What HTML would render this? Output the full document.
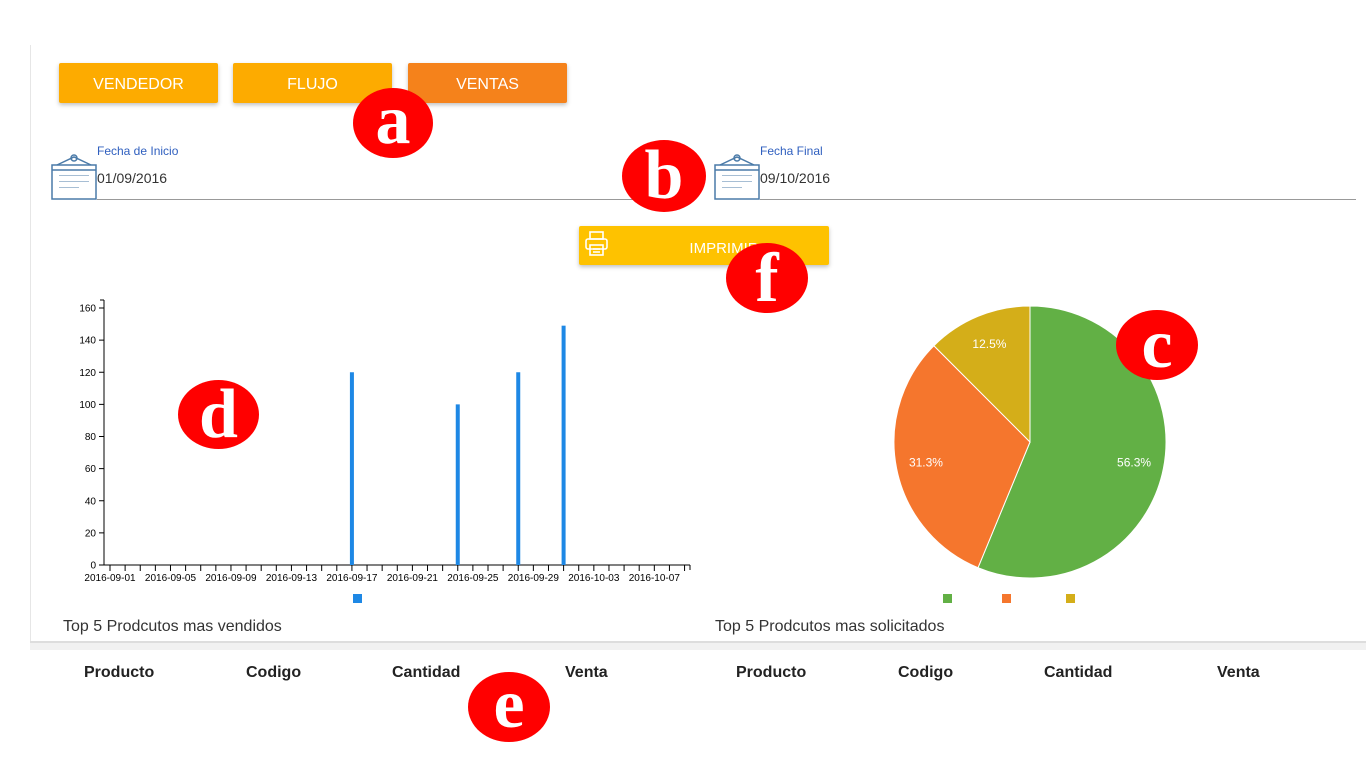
<!DOCTYPE html>
<html><head><meta charset="utf-8"><style>
body{margin:0;width:1366px;height:768px;background:#fff;font-family:"Liberation Sans",sans-serif;position:relative;overflow:hidden}
.abs{position:absolute}
.btn{position:absolute;top:63px;width:159px;height:40px;background:#fdab00;color:#fff;font-size:16px;text-align:center;line-height:44px;border-radius:2px;box-shadow:0 2px 4px rgba(0,0,0,.25)}
.mark{position:absolute;background:#ff0000;border-radius:50%;color:#fff;font-family:"Liberation Serif",serif;font-weight:bold;text-align:center}
.th{position:absolute;top:664px;font-size:16px;font-weight:bold;color:#222}
</style></head><body>
<div class="abs" style="left:30px;top:45px;width:1px;height:598px;background:#e6e6e6"></div>
<div class="btn" style="left:59px">VENDEDOR</div>
<div class="btn" style="left:233px">FLUJO</div>
<div class="btn" style="left:408px;background:#f5821b">VENTAS</div>

<svg class="abs" style="left:51px;top:153px" width="48" height="48"><g fill="none" stroke="#4a7aa8" stroke-width="1.5"><rect x="1" y="12" width="44" height="34"/><line x1="1" y1="17" x2="45" y2="17"/><path d="M6 12 L23 4 L40 12"/><circle cx="23" cy="5" r="3"/></g><g fill="#6d93b8"><rect x="8" y="22" width="30" height="1" opacity=".6"/><rect x="8" y="28" width="30" height="1" opacity=".6"/><rect x="8" y="34" width="20" height="1" opacity=".6"/></g></svg>
<div class="abs" style="left:97px;top:144px;font-size:12px;color:#2f5fbf">Fecha de Inicio</div>
<div class="abs" style="left:97px;top:170px;font-size:14px;color:#333">01/09/2016</div>
<div class="abs" style="left:97px;top:199px;width:596px;height:1px;background:#999"></div>

<svg class="abs" style="left:714px;top:153px" width="48" height="48"><g fill="none" stroke="#4a7aa8" stroke-width="1.5"><rect x="1" y="12" width="44" height="34"/><line x1="1" y1="17" x2="45" y2="17"/><path d="M6 12 L23 4 L40 12"/><circle cx="23" cy="5" r="3"/></g><g fill="#6d93b8"><rect x="8" y="22" width="30" height="1" opacity=".6"/><rect x="8" y="28" width="30" height="1" opacity=".6"/><rect x="8" y="34" width="20" height="1" opacity=".6"/></g></svg>
<div class="abs" style="left:760px;top:144px;font-size:12px;color:#2f5fbf">Fecha Final</div>
<div class="abs" style="left:760px;top:170px;font-size:14px;color:#333">09/10/2016</div>
<div class="abs" style="left:760px;top:199px;width:596px;height:1px;background:#999"></div>

<div class="abs" style="left:579px;top:226px;width:250px;height:39px;background:#fec200;color:#fff;font-size:15px;line-height:45px;text-align:center;border-radius:2px;box-shadow:0 2px 4px rgba(0,0,0,.25)"><span style="margin-left:40px">IMPRIMIR</span>
<svg class="abs" style="left:6px;top:4px" width="24" height="28"><g fill="none" stroke="#fff" stroke-width="1.6"><rect x="5" y="2" width="13" height="7"/><rect x="1" y="9" width="21" height="10" rx="2"/><rect x="5" y="15" width="13" height="10"/><line x1="8" y1="19" x2="15" y2="19"/><line x1="8" y1="22" x2="15" y2="22"/></g></svg></div>

<svg class="abs" style="left:0;top:0" width="1366" height="640" id="chart"></svg>

<div class="abs" style="left:63px;top:618px;font-size:16px;color:#333">Top 5 Prodcutos mas vendidos</div>
<div class="abs" style="left:715px;top:618px;font-size:16px;color:#333">Top 5 Prodcutos mas solicitados</div>
<div class="abs" style="left:30px;top:641px;width:1336px;height:2px;background:#ddd"></div>
<div class="abs" style="left:30px;top:643px;width:1336px;height:7px;background:#f1f1f1"></div>
<div class="th" style="left:84px">Producto</div>
<div class="th" style="left:246px">Codigo</div>
<div class="th" style="left:392px">Cantidad</div>
<div class="th" style="left:565px">Venta</div>
<div class="th" style="left:736px">Producto</div>
<div class="th" style="left:898px">Codigo</div>
<div class="th" style="left:1044px">Cantidad</div>
<div class="th" style="left:1217px">Venta</div>

<div class="mark" style="left:353px;top:88px;width:80px;height:70px;font-size:70px;line-height:66px">a</div>
<div class="mark" style="left:622px;top:140px;width:84px;height:72px;font-size:70px;line-height:72px">b</div>
<div class="mark" style="left:726px;top:243px;width:82px;height:70px;font-size:70px;line-height:72px">f</div>
<div class="mark" style="left:1116px;top:310px;width:82px;height:70px;font-size:70px;line-height:70px">c</div>
<div class="mark" style="left:178px;top:380px;width:81px;height:69px;font-size:70px;line-height:70px">d</div>
<div class="mark" style="left:468px;top:672px;width:82px;height:70px;font-size:70px;line-height:66px">e</div>

<script>
const barDays=[16,23,27,30];
const barValues=[120,100,120,149];
const yTicks=[0,20,40,60,80,100,120,140,160];
const xLabelDays=[0,4,8,12,16,20,24,28,32,36];
const xLabels=["2016-09-01","2016-09-05","2016-09-09","2016-09-13","2016-09-17","2016-09-21","2016-09-25","2016-09-29","2016-10-03","2016-10-07"];
const pieValues=[56.3,31.3,12.5];
const pieLabels=["56.3%","31.3%","12.5%"];
const pieColors=["#62b045","#f5762d","#d4ae19"];

const NS="http://www.w3.org/2000/svg";
const svg=document.getElementById('chart');
function mk(t,a,p){const e=document.createElementNS(NS,t);for(const k in a)e.setAttribute(k,a[k]);(p||svg).appendChild(e);return e;}
const X=d=>110+d*15.12;
const Y=v=>565-v*(257/160);
let e;
e=mk('line',{x1:104,y1:300,x2:104,y2:565,stroke:'#000'});


e=mk('line',{x1:104,y1:565,x2:690,y2:565,stroke:'#000'});


mk('line',{x1:100,y1:300,x2:104,y2:300,stroke:'#000'});
mk('line',{x1:690,y1:565,x2:690,y2:570,stroke:'#000'});
yTicks.forEach(v=>{
  mk('line',{x1:99,y1:Y(v),x2:104,y2:Y(v),stroke:'#000'});
  const t=mk('text',{x:96,y:Y(v)+3.5,'text-anchor':'end','font-size':10,fill:'#000'});t.textContent=v;
  
  
});
for(let d=0;d<=38;d++){mk('line',{x1:X(d),y1:565,x2:X(d),y2:571,stroke:'#000'});}
xLabels.forEach((s,i)=>{
  const t=mk('text',{x:X(xLabelDays[i]),y:581,'text-anchor':'middle','font-size':10,fill:'#000'});t.textContent=s;
  
  
});
barDays.forEach((d,i)=>{
  const r=mk('rect',{x:X(d)-2,y:Y(barValues[i]),width:4,height:565-Y(barValues[i]),fill:'#1e88e5'});
  
  
});
e=mk('rect',{x:353,y:594,width:9,height:9,fill:'#1e88e5'});



const cx=1030,cy=442,R=136;
const tot=pieValues.reduce((a,b)=>a+b,0);
let a0=0;
const lx=[943,1002,1066];
pieValues.forEach((v,i)=>{
  const a1=a0+v/tot*2*Math.PI;
  const p=(a)=>[cx+R*Math.sin(a),cy-R*Math.cos(a)];
  const [x0,y0]=p(a0),[x1,y1]=p(a1);
  const s=mk('path',{d:`M${cx} ${cy} L${x0} ${y0} A${R} ${R} 0 ${a1-a0>Math.PI?1:0} 1 ${x1} ${y1}Z`,fill:pieColors[i],stroke:'#fff','stroke-width':1});
  
  
  const am=(a0+a1)/2,lr=R*0.78;
  const t=mk('text',{x:cx+lr*Math.sin(am),y:cy-lr*Math.cos(am)+4,'text-anchor':'middle','font-size':12,fill:'#fff'});t.textContent=pieLabels[i];
  
  
  const l=mk('rect',{x:lx[i],y:594,width:9,height:9,fill:pieColors[i]});
  
  
  a0=a1;
});
</script>
</body></html>
